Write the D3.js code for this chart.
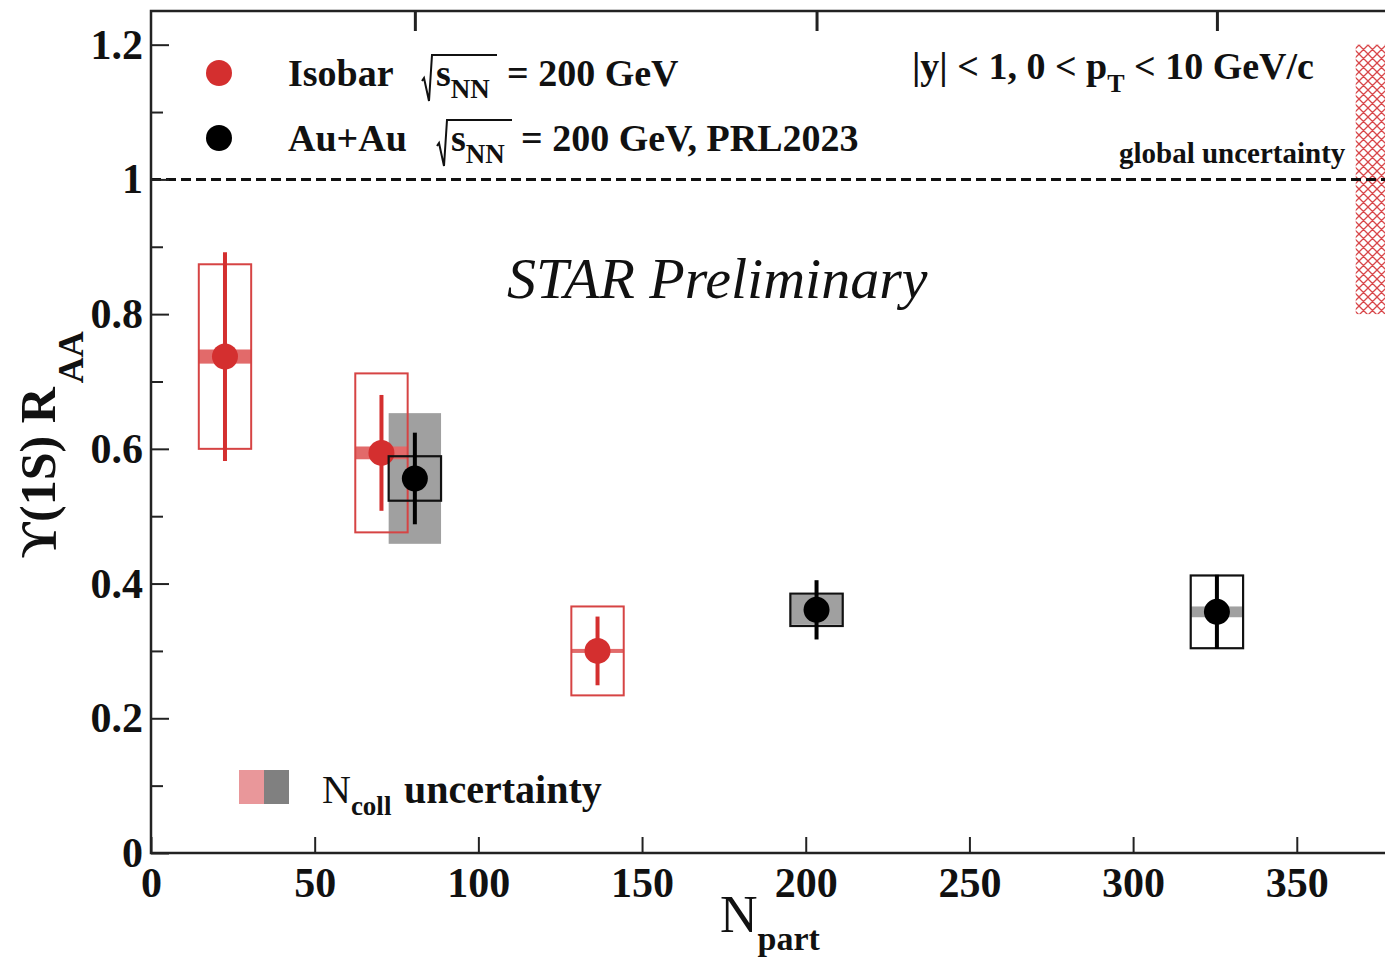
<!DOCTYPE html>
<html>
<head>
<meta charset="utf-8">
<script src="https://cdn.jsdelivr.net/npm/d3@7"></script>
<style>
  body { margin: 0; background: #fff; }
  svg { display: block; }
  text { font-family: "Liberation Serif", "Times New Roman", serif; fill: #111; }
</style>
</head>
<body>
<svg id="chart" width="1385" height="959"></svg>
<script>
// Isobar (Ru+Ru / Zr+Zr) Upsilon(1S) R_AA vs Npart
const isoNpart = [22.6, 70.4, 136.4];
const isoRaa   = [0.737, 0.594, 0.300];
const isoStat  = [0.155, 0.086, 0.051];
const isoSys   = [0.137, 0.118, 0.066];
const isoNcoll = [0.009, 0.008, 0.0015];

// Au+Au, PRL 2023
const auNpart = [80.6, 203.3, 325.6];
const auRaa   = [0.556, 0.361, 0.358];
const auStat  = [0.068, 0.044, 0.055];
const auSys   = [0.033, 0.024, 0.054];
const auNcoll = [0.097, 0.022, 0.008];

// global uncertainty around unity
const globalUnc = 0.2;

const xTicks = [0, 50, 100, 150, 200, 250, 300, 350];
const yTicks = [0, 0.2, 0.4, 0.6, 0.8, 1, 1.2];
const yMinorTicks = [0.1, 0.3, 0.5, 0.7, 0.9, 1.1];

const RED = "#d42f2f";
const RED_BOX = "#d64444";
const RED_NCOLL = "#e26a6a";
const GREY = "#a0a0a0";
const BOX_HALF = 8;     // half-width of systematic boxes in Npart units
const R = 13;

const svg = d3.select("#chart");
const x = d3.scaleLinear().domain([0, 380]).range([151, 1395]);
const y = d3.scaleLinear().domain([0, 1.25]).range([853, 11]);

// cross-hatch pattern for the global uncertainty band
const defs = svg.append("defs");
const pat = defs.append("pattern")
  .attr("id", "hatch").attr("patternUnits", "userSpaceOnUse")
  .attr("width", 9).attr("height", 9);
pat.append("path").attr("d", "M0,0L9,9M9,0L0,9M-1,8L1,10M8,-1L10,1M-1,1L1,-1M8,10L10,8")
  .attr("stroke", "#d8474a").attr("stroke-width", 1.3).attr("fill", "none");

svg.append("rect")
  .attr("x", x(368)).attr("width", x(380) - x(368))
  .attr("y", y(1 + globalUnc)).attr("height", y(1 - globalUnc) - y(1 + globalUnc))
  .attr("fill", "url(#hatch)");

// unity line
svg.append("line")
  .attr("x1", x(0)).attr("x2", x(380)).attr("y1", y(1)).attr("y2", y(1))
  .attr("stroke", "#111").attr("stroke-width", 3).attr("stroke-dasharray", "10,5");

// axes
const xAxis = d3.axisBottom(x).tickValues(xTicks).tickSize(-16).tickPadding(14)
  .tickFormat(d3.format("d"));
const gx = svg.append("g").attr("transform", `translate(0,${y(0)})`).call(xAxis);
gx.select(".domain").remove();
gx.selectAll(".tick line").attr("stroke", "#222").attr("stroke-width", 2);
gx.selectAll(".tick text").attr("font-size", 42).attr("font-weight", "bold")
  .attr("fill", "#111").attr("dy", "0.72em");

const yAxis = d3.axisLeft(y).tickValues(yTicks).tickSize(-18).tickPadding(8)
  .tickFormat(d => d === 0 ? "0" : d === 1 ? "1" : d3.format(".1f")(d));
const gy = svg.append("g").attr("transform", `translate(${x(0)},0)`).call(yAxis);
gy.select(".domain").remove();
gy.selectAll(".tick line").attr("stroke", "#222").attr("stroke-width", 2);
gy.selectAll(".tick text").attr("font-size", 42).attr("font-weight", "bold").attr("fill", "#111");

const gyMinor = svg.append("g").attr("transform", `translate(${x(0)},0)`)
  .call(d3.axisLeft(y).tickValues(yMinorTicks).tickSize(-12).tickFormat(""));
gyMinor.select(".domain").remove();
gyMinor.selectAll(".tick line").attr("stroke", "#222").attr("stroke-width", 2);

// top axis ticks at the Au+Au centrality classes
const gTop = svg.append("g").attr("transform", `translate(0,${y(1.25)})`)
  .call(d3.axisTop(x).tickValues(auNpart).tickSize(-20).tickFormat(""));
gTop.select(".domain").remove();
gTop.selectAll(".tick line").attr("stroke", "#222").attr("stroke-width", 3);

// frame
svg.append("path")
  .attr("d", `M${x(380)},${y(1.25)}H${x(0)}V${y(0)}H${x(380)}`)
  .attr("fill", "none").attr("stroke", "#222").attr("stroke-width", 2.5);

const plot = svg.append("g");

// Au+Au Ncoll bands (grey)
plot.selectAll("rect.au-ncoll").data(auNpart).join("rect")
  .attr("class", "au-ncoll")
  .attr("x", d => x(d - BOX_HALF)).attr("width", d => x(d + BOX_HALF) - x(d - BOX_HALF))
  .attr("y", (d, i) => y(auRaa[i] + auNcoll[i]))
  .attr("height", (d, i) => y(auRaa[i] - auNcoll[i]) - y(auRaa[i] + auNcoll[i]))
  .attr("fill", GREY);

// Isobar Ncoll bands
plot.selectAll("rect.iso-ncoll").data(isoNpart).join("rect")
  .attr("class", "iso-ncoll")
  .attr("x", d => x(d - BOX_HALF)).attr("width", d => x(d + BOX_HALF) - x(d - BOX_HALF))
  .attr("y", (d, i) => y(isoRaa[i] + isoNcoll[i]) - 1)
  .attr("height", (d, i) => y(isoRaa[i] - isoNcoll[i]) - y(isoRaa[i] + isoNcoll[i]) + 2)
  .attr("fill", RED_NCOLL);

// Isobar systematic boxes
plot.selectAll("rect.iso-sys").data(isoNpart).join("rect")
  .attr("class", "iso-sys")
  .attr("x", d => x(d - BOX_HALF)).attr("width", d => x(d + BOX_HALF) - x(d - BOX_HALF))
  .attr("y", (d, i) => y(isoRaa[i] + isoSys[i]))
  .attr("height", (d, i) => y(isoRaa[i] - isoSys[i]) - y(isoRaa[i] + isoSys[i]))
  .attr("fill", "none").attr("stroke", RED_BOX).attr("stroke-width", 2);

// Isobar stat errors
plot.selectAll("line.iso-stat").data(isoNpart).join("line")
  .attr("class", "iso-stat")
  .attr("x1", d => x(d)).attr("x2", d => x(d))
  .attr("y1", (d, i) => y(isoRaa[i] + isoStat[i]))
  .attr("y2", (d, i) => y(isoRaa[i] - isoStat[i]))
  .attr("stroke", RED).attr("stroke-width", 4);

plot.selectAll("circle.iso").data(isoNpart).join("circle")
  .attr("class", "iso")
  .attr("cx", d => x(d)).attr("cy", (d, i) => y(isoRaa[i])).attr("r", R)
  .attr("fill", RED);

// Au+Au systematic boxes
plot.selectAll("rect.au-sys").data(auNpart).join("rect")
  .attr("class", "au-sys")
  .attr("x", d => x(d - BOX_HALF)).attr("width", d => x(d + BOX_HALF) - x(d - BOX_HALF))
  .attr("y", (d, i) => y(auRaa[i] + auSys[i]))
  .attr("height", (d, i) => y(auRaa[i] - auSys[i]) - y(auRaa[i] + auSys[i]))
  .attr("fill", "none").attr("stroke", "#111").attr("stroke-width", 2.2);

plot.selectAll("line.au-stat").data(auNpart).join("line")
  .attr("class", "au-stat")
  .attr("x1", d => x(d)).attr("x2", d => x(d))
  .attr("y1", (d, i) => y(auRaa[i] + auStat[i]))
  .attr("y2", (d, i) => y(auRaa[i] - auStat[i]))
  .attr("stroke", "#000").attr("stroke-width", 4);

plot.selectAll("circle.au").data(auNpart).join("circle")
  .attr("class", "au")
  .attr("cx", d => x(d)).attr("cy", (d, i) => y(auRaa[i])).attr("r", R)
  .attr("fill", "#000");

// legend
function radical(x0, yTop, yBot, x1) {
  svg.append("path")
    .attr("d", `M${x0},${yBot - 20}L${x0 + 2},${yBot - 23}L${x0 + 7},${yBot}L${x0 + 10},${yTop}H${x1}`)
    .attr("fill", "none").attr("stroke", "#111").attr("stroke-width", 2);
}
svg.append("circle").attr("cx", 219).attr("cy", 73).attr("r", R).attr("fill", RED);
svg.append("circle").attr("cx", 219).attr("cy", 138).attr("r", R).attr("fill", "#000");

const leg1 = svg.append("text").attr("font-size", 38).attr("font-weight", "bold");
leg1.append("tspan").attr("x", 288).attr("y", 86).text("Isobar");
leg1.append("tspan").attr("x", 436).attr("y", 86).text("s");
leg1.append("tspan").attr("font-size", 27).attr("y", 98).text("NN");
leg1.append("tspan").attr("x", 507).attr("y", 86).text("= 200 GeV");
radical(422, 55, 101, 497);

const leg2 = svg.append("text").attr("font-size", 38).attr("font-weight", "bold");
leg2.append("tspan").attr("x", 288).attr("y", 151).text("Au+Au");
leg2.append("tspan").attr("x", 451).attr("y", 151).text("s");
leg2.append("tspan").attr("font-size", 27).attr("y", 163).text("NN");
leg2.append("tspan").attr("x", 521).attr("y", 151).text("= 200 GeV, PRL2023");
radical(437, 120, 166, 512);

const kin = svg.append("text").attr("font-size", 38).attr("font-weight", "bold");
kin.append("tspan").attr("x", 912).attr("y", 79).text("|y| < 1, 0 < p");
kin.append("tspan").attr("font-size", 26).attr("y", 92).text("T");
kin.append("tspan").attr("y", 79).text(" < 10 GeV/c");

svg.append("text").attr("x", 1119).attr("y", 163).attr("font-size", 29)
  .attr("font-weight", "bold").text("global uncertainty");

svg.append("text").attr("x", 507).attr("y", 298).attr("font-size", 58)
  .attr("font-style", "italic").text("STAR Preliminary");

// Ncoll uncertainty key
svg.append("rect").attr("x", 239).attr("y", 770).attr("width", 25).attr("height", 34).attr("fill", "#e9979a");
svg.append("rect").attr("x", 264).attr("y", 770).attr("width", 25).attr("height", 34).attr("fill", "#808080");
const nc = svg.append("text").attr("font-size", 40).attr("font-weight", "bold");
nc.append("tspan").attr("x", 322).attr("y", 803).attr("font-weight", "normal").text("N");
nc.append("tspan").attr("font-size", 27).attr("y", 815).text("coll");
nc.append("tspan").attr("x", 404).attr("y", 803).text("uncertainty");

// axis titles
const xt = svg.append("text").attr("font-weight", "bold");
xt.append("tspan").attr("x", 720).attr("y", 932).attr("font-size", 52).attr("font-weight", "normal").text("N");
xt.append("tspan").attr("y", 950).attr("font-size", 34).text("part");

const yt = svg.append("text").attr("font-weight", "bold")
  .attr("transform", "translate(55,558) rotate(-90)");
yt.append("tspan").attr("font-size", 50).text("\u03D2(1S) R");
yt.append("tspan").attr("font-size", 36).attr("dy", 28).attr("dx", 4).text("AA");
</script>
</body>
</html>
